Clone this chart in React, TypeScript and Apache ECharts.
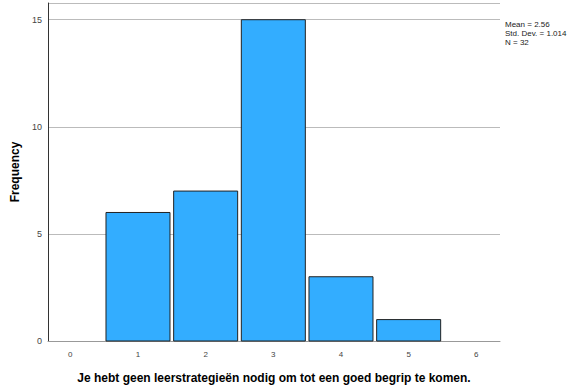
import React, { useEffect, useRef } from "react";
import * as echarts from "echarts";

const binCenters = [1, 2, 3, 4, 5];
const frequencies = [6, 7, 15, 3, 1];
const statsLines = ["Mean = 2.56", "Std. Dev. = 1.014", "N = 32"];
const xTitle = "Je hebt geen leerstrategieën nodig om tot een goed begrip te komen.";
const yTitle = "Frequency";

export default function App() {
  const ref = useRef<HTMLDivElement>(null);
  useEffect(() => {
    if (!ref.current) return;
    const chart = echarts.init(ref.current, undefined, { renderer: "svg" });
    const font = "'Liberation Sans', Arial, sans-serif";
    chart.setOption({
      animation: false,
      textStyle: { fontFamily: font },
      grid: { left: 48, right: 74, top: 3, bottom: 44, containLabel: false },
      xAxis: {
        type: "value",
        min: -0.33,
        max: 6.35,
        name: xTitle,
        nameLocation: "middle",
        nameGap: 31,
        nameTextStyle: { fontFamily: font, fontWeight: "bold", fontSize: 12, color: "#000" },
        axisLine: { show: true, onZero: false, lineStyle: { color: "#999", width: 1 } },
        axisTick: { show: false },
        splitLine: { show: false },
        axisLabel: {
          fontFamily: font,
          fontSize: 8,
          color: "#444",
          margin: 9,
          showMinLabel: false,
          showMaxLabel: false,
          formatter: (v: number) => (Math.abs(v - Math.round(v)) < 1e-6 ? String(Math.round(v)) : ""),
        },
      },
      yAxis: {
        type: "value",
        min: 0,
        max: 15.78,
        interval: 5,
        name: yTitle,
        nameLocation: "middle",
        nameGap: 23,
        nameRotate: 90,
        nameTextStyle: { fontFamily: font, fontWeight: "bold", fontSize: 12, color: "#000" },
        axisLine: { show: true, onZero: false, lineStyle: { color: "#333", width: 1 } },
        axisTick: { show: false },
        splitLine: { show: true, lineStyle: { color: "#bbb", width: 1 } },
        axisLabel: {
          fontFamily: font,
          fontSize: 9,
          color: "#444",
          margin: 6,
          showMaxLabel: false,
        },
      },
      series: [
        {
          type: "custom",
          data: binCenters.map((c, i) => [c, frequencies[i]]),
          renderItem: (params: any, api: any) => {
            const x = api.value(0);
            const y = api.value(1);
            const p0 = api.coord([x - 0.473, y]);
            const p1 = api.coord([x + 0.473, 0]);
            return {
              type: "rect",
              shape: { x: p0[0], y: p0[1], width: p1[0] - p0[0], height: p1[1] - p0[1] },
              style: { fill: "#33adff", stroke: "#222", lineWidth: 1 },
            };
          },
        },
      ],
      graphic: statsLines.map((t, i) => ({
        type: "text",
        left: 505,
        top: 20 + i * 9,
        style: { text: t, fontFamily: font, fontSize: 8, fill: "#222" },
      })),
    });
    return () => chart.dispose();
  }, []);
  return <div ref={ref} style={{ width: 574, height: 389, position: "absolute", left: 0, top: 0, background: "#fff" }} />;
}
